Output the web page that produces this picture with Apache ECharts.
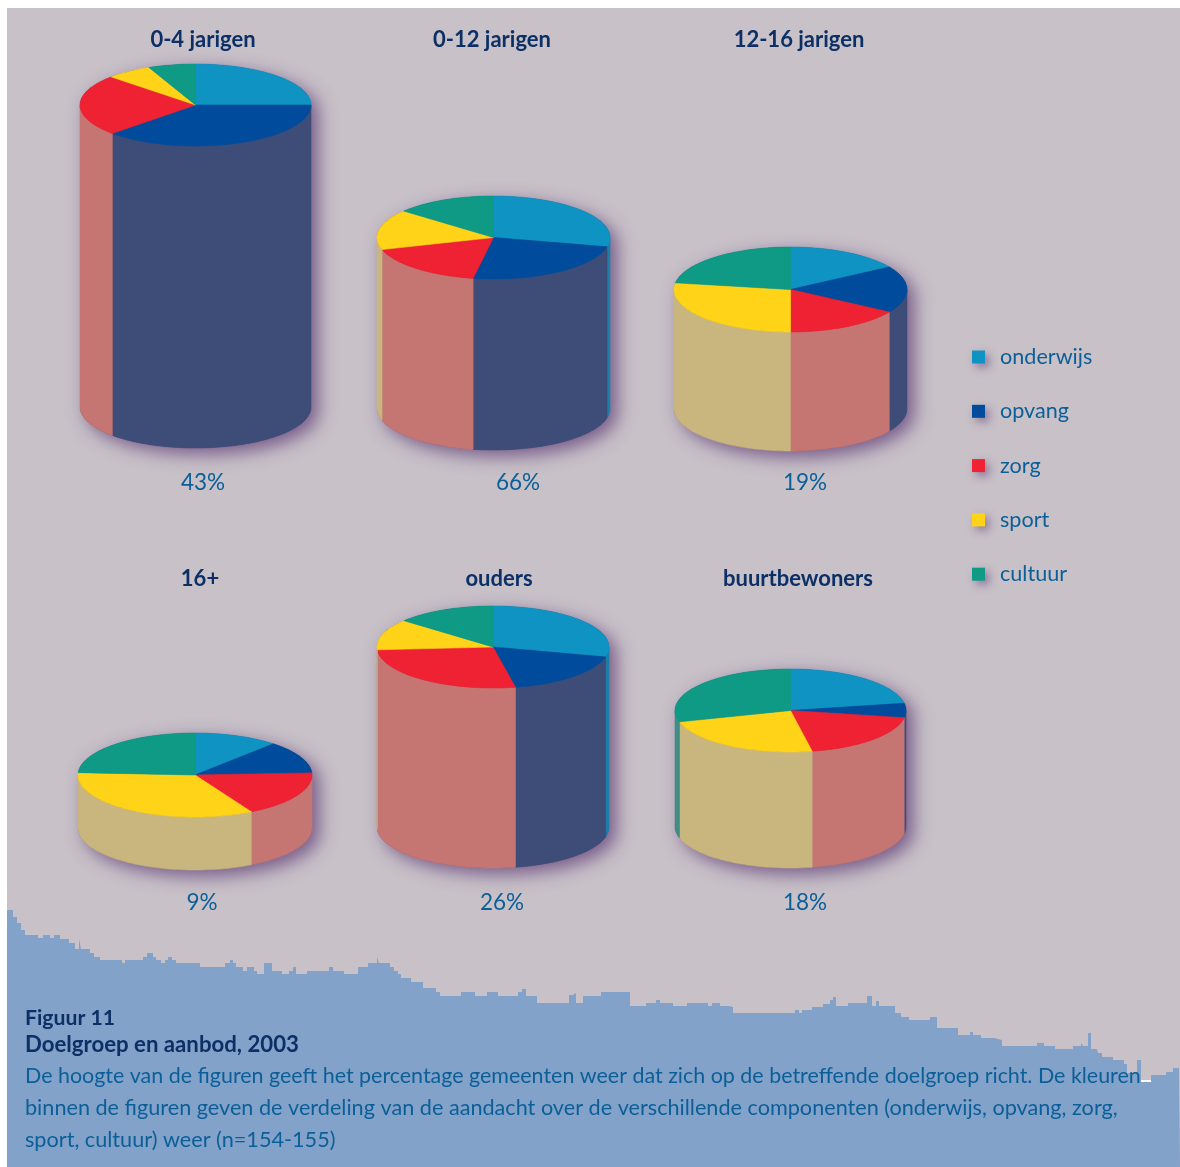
<!DOCTYPE html>
<html><head><meta charset="utf-8">
<style>html,body{margin:0;padding:0;background:#fff}#c{width:1180px;height:1167px}</style>
<script src="https://cdn.jsdelivr.net/npm/echarts@6/dist/echarts.min.js"></script>
</head><body><div id="c"></div>
<script>
// ---- data ----
const categories = ['0-4 jarigen','0-12 jarigen','12-16 jarigen','16+','ouders','buurtbewoners'];
const percentLabels = [43,66,19,9,26,18];
const drawnHeights = [302,171,119,53,180,116];
const components = ['onderwijs','opvang','zorg','sport','cultuur'];
const onderwijs = [25,28.6,16.1,11.7,28.9,22.2];
const opvang = [37.8,24.2,17.8,12.5,18,5.6];
const zorg = [24.2,17.5,16.1,17.8,27,19.2];
const sport = [6.4,15.7,27.5,33.9,12.2,23.6];
const cultuur = [6.6,14,22.5,24.1,13.9,29.4];
const shareLists = [onderwijs,opvang,zorg,sport,cultuur];
const landX = [7,13,17,21,25,38,43,50,54,60,69,75,79,81,90,94,100,122,125,143,147,153,156,161,165,168,172,176,200,225,230,233,236,243,247,254,257,264,272,282,289,293,296,307,329,333,344,358,368,377,379,390,394,398,401,411,423,436,440,461,475,487,498,518,522,526,537,569,573,576,583,601,630,646,656,660,673,687,708,712,720,729,733,795,799,802,812,823,830,833,836,848,867,872,876,879,895,901,909,930,937,951,958,970,973,981,994,1002,1037,1044,1055,1073,1081,1083,1088,1091,1097,1098,1102,1113,1124,1127,1137,1141,1151,1166,1173,1179,1180];
const landY = [910,917,923,930,935,938,935,938,935,939,943,949,939,949,953,957,960,963,960,957,953,957,960,963,960,957,960,963,967,963,960,963,967,971,967,971,974,963,971,974,971,967,974,971,967,971,974,967,963,957,963,967,971,974,978,982,988,992,996,992,996,992,996,992,989,996,1003,995,993,1003,996,992,1006,1003,1000,1003,1006,1003,1006,1003,1006,1007,1013,1010,1013,1010,1007,1004,1000,997,1006,1003,996,1006,1001,1006,1013,1017,1020,1017,1028,1028,1035,1032,1035,1038,1040,1046,1043,1046,1049,1046,1043,1046,1033,1049,1047,1053,1057,1060,1064,1073,1060,1082,1075,1072,1068,1072,1072];
const captionBold = ['Figuur 11','Doelgroep en aanbod, 2003'];
const captionLines = [
 'De hoogte van de figuren geeft het percentage gemeenten weer dat zich op de betreffende doelgroep richt. De kleuren',
 'binnen de figuren geven de verdeling van de aandacht over de verschillende componenten (onderwijs, opvang, zorg,',
 'sport, cultuur) weer (n=154-155)'];

// ---- layout and styling ----
const centerX = [195.5,493.5,790.5,195,493,790.5];
const centerY = [105,237.5,289.5,775,647,710.5];
const radiusX = [115.5,116.5,116.5,117,116,115.5];
const radiusY = [41,41.5,42.5,42,41,41.5];
const titleX = [203,492,799,200,499,798];
const titleY = [40,40,40,579,579,579];
const pctX = [203,518,805,202,502,805];
const pctY = [483,483,483,903,903,903];
const topColors = ['#0f93c3','#004b9b','#ee2233','#ffd318','#0e9a85'];
const wallColors = ['#1b7fa8','#3e4d78','#c67672','#c9b67e','#3f8d84'];
const FONT = 'Lato';
const DARK = '#0c2f66', BLUE = '#0b5f98';

const grids=[], xAxes=[], yAxes=[], series=[], titles=[];
const axisOff = {show:false};

function arc(api,rx,ry,base,a,b){
  const pts=[], n=Math.max(2,Math.ceil(Math.abs(b-a)/1.5));
  for(let i=0;i<=n;i++){
    const t=(a+(b-a)*i/n)*Math.PI/180;
    pts.push(api.coord([rx*Math.cos(t), base-ry*Math.sin(t)]));
  }
  return pts;
}

categories.forEach((cat,i)=>{
  const rx=radiusX[i], ry=radiusY[i], h=drawnHeights[i];
  grids.push({left:centerX[i]-rx, width:2*rx, top:centerY[i]-ry, height:2*ry+h});
  xAxes.push({type:'value',gridIndex:i,min:-rx,max:rx,...axisOff});
  yAxes.push({type:'value',gridIndex:i,min:-ry,max:h+ry,...axisOff});
  // silhouette that casts the drop shadow
  series.push({type:'custom',name:'schaduw',coordinateSystem:'cartesian2d',xAxisIndex:i,yAxisIndex:i,z:1,silent:true,
    data:[[0,h]],
    renderItem:(p,api)=>({type:'polygon',
      shape:{points:[...arc(api,rx,ry,h,180,360),...arc(api,rx,ry,0,0,180)]},
      style:{fill:'#4a4f78',shadowBlur:18,shadowColor:'rgba(88,50,112,0.72)',shadowOffsetX:7,shadowOffsetY:6}})});
  let cum=0;
  components.forEach((name,k)=>{
    const s=cum, e=cum+shareLists[k][i]; cum=e;
    series.push({type:'custom',name,coordinateSystem:'cartesian2d',xAxisIndex:i,yAxisIndex:i,z:3,silent:true,
      itemStyle:{color:topColors[k]},
      data:[[s,e,h]],
      renderItem:(p,api)=>{
        const a=-90+3.6*api.value(0), b=-90+3.6*api.value(1), ht=api.value(2);
        const children=[];
        const wa=Math.max(a,0), wb=Math.min(b,180);
        if(wb>wa){
          children.push({type:'polygon',
            shape:{points:[...arc(api,rx,ry,ht,wa,wb),...arc(api,rx,ry,0,wb,wa)]},
            style:{fill:wallColors[k],stroke:wallColors[k],lineWidth:0.6}});
        }
        children.push({type:'polygon',
          shape:{points:[api.coord([0,ht]),...arc(api,rx,ry,ht,a,b)]},
          style:{fill:topColors[k],stroke:topColors[k],lineWidth:0.6}});
        return {type:'group',children};
      }});
  });
  titles.push({text:cat,left:titleX[i],top:titleY[i]-12,textAlign:'center',padding:0,
    textStyle:{fontFamily:FONT,fontSize:22,fontWeight:'bold',color:DARK,lineHeight:24}});
  titles.push({text:percentLabels[i]+'%',left:pctX[i],top:pctY[i]-12,textAlign:'center',padding:0,
    textStyle:{fontFamily:FONT,fontSize:22.5,fontWeight:'normal',color:BLUE,lineHeight:24}});
});

// skyline band at the bottom
const landIdx=categories.length;
grids.push({left:0,top:0,width:1180,height:1167});
xAxes.push({type:'value',gridIndex:landIdx,min:0,max:1180,...axisOff});
yAxes.push({type:'value',gridIndex:landIdx,min:0,max:1167,inverse:true,...axisOff});
series.unshift({type:'line',name:'achtergrond',xAxisIndex:landIdx,yAxisIndex:landIdx,step:'end',z:0,silent:true,
  symbol:'none',lineStyle:{width:0},areaStyle:{color:'#82a2c9',opacity:1,origin:'end'},
  data:landX.map((x,i)=>[x,landY[i]])});

captionBold.forEach((t,i)=>titles.push({text:t,left:25,top:[1006,1033][i],padding:0,
  textStyle:{fontFamily:FONT,fontSize:[21.2,22.2][i],fontWeight:'bold',color:DARK,lineHeight:24}}));
captionLines.forEach((t,i)=>titles.push({text:t,left:25,top:[1064,1096,1128][i],padding:0,
  textStyle:{fontFamily:FONT,fontSize:[21.45,21.65,21.65][i],fontWeight:'normal',color:BLUE,lineHeight:24}}));

const chart=echarts.init(document.getElementById('c'),null,{renderer:'canvas'});
chart.setOption({
  animation:false,
  backgroundColor:'#ffffff',
  graphic:[
    {type:'rect',z:-1,silent:true,shape:{x:7,y:8,width:1173,height:1159},style:{fill:'#c8c1c8'}},
    {type:'rect',z:100,silent:true,shape:{x:1141,y:1080,width:10,height:2},style:{fill:'#ffffff'}}
  ],
  title:titles,
  legend:{
    data:components,orient:'vertical',left:972,top:346,padding:0,
    itemWidth:13,itemHeight:13,itemGap:32.3,selectedMode:false,icon:'rect',
    itemStyle:{shadowBlur:8,shadowColor:'rgba(88,50,112,0.5)',shadowOffsetX:4,shadowOffsetY:4},
    textStyle:{fontFamily:FONT,fontSize:21.6,color:BLUE,lineHeight:20,padding:[0,0,0,10]}
  },
  tooltip:{show:false},
  grid:grids,xAxis:xAxes,yAxis:yAxes,series
});
</script></body></html>
